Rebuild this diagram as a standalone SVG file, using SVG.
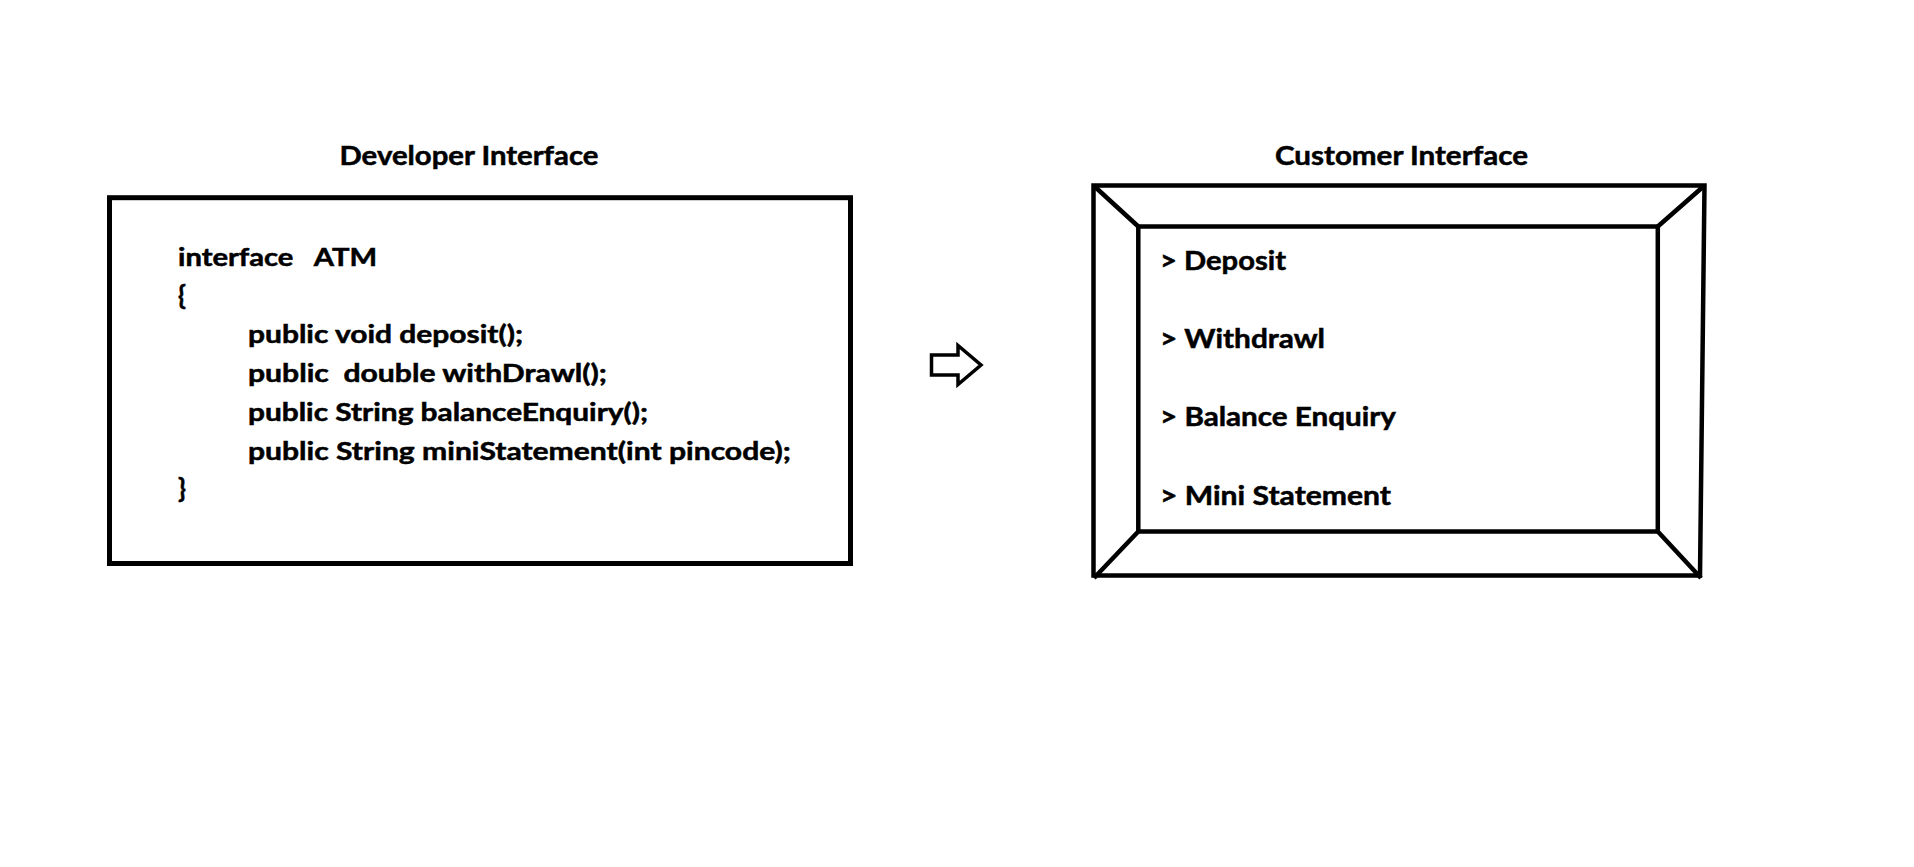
<svg xmlns="http://www.w3.org/2000/svg" width="1914" height="867" viewBox="0 0 1914 867">
  <style>
    .t { font-family: Lato, "Liberation Sans", sans-serif; font-weight: bold; fill: #000; stroke: #000; stroke-width: 0.5; }
    .title { font-size: 26.5px; }
    .code { font-size: 24px; }
    .brace { font-size: 26px; }
    .item { font-size: 26px; }
    .frame { fill: none; stroke: #000; stroke-width: 4.5; stroke-linejoin: miter; }
    .box { fill: #fff; stroke: #000; stroke-width: 5; }
    .arrow { fill: #fff; stroke: #000; stroke-width: 3.5; stroke-linejoin: miter; }
  </style>
  <rect x="0" y="0" width="1914" height="867" fill="#fff"/>

  <g id="developer-interface">
    <text class="t title" x="339.5" y="165" textLength="259" lengthAdjust="spacingAndGlyphs">Developer Interface</text>
    <rect class="box" x="109.5" y="197.7" width="741" height="365.8"/>
    <text class="t code" x="178" y="266" xml:space="preserve" textLength="199" lengthAdjust="spacingAndGlyphs">interface   ATM</text>
    <text class="t code brace" x="178" y="304.7">{</text>
    <text class="t code" x="248" y="343.4" textLength="275" lengthAdjust="spacingAndGlyphs">public void deposit();</text>
    <text class="t code" x="248" y="382.1" xml:space="preserve" textLength="359" lengthAdjust="spacingAndGlyphs">public  double withDrawl();</text>
    <text class="t code" x="248" y="420.8" textLength="400" lengthAdjust="spacingAndGlyphs">public String balanceEnquiry();</text>
    <text class="t code" x="248" y="459.5" textLength="543" lengthAdjust="spacingAndGlyphs">public String miniStatement(int pincode);</text>
    <text class="t code brace" x="178" y="498.2">}</text>
  </g>

  <g id="customer-interface">
    <text class="t title" x="1275" y="165" textLength="253" lengthAdjust="spacingAndGlyphs">Customer Interface</text>
    <path class="frame" d="M1093.5,185.5 H1704.5 L1700,575.5 H1093.5 Z"/>
    <rect class="frame" x="1138.3" y="226.5" width="519.5" height="305"/>
    <path class="frame" d="M1093.5,185.5 L1138.3,226.5 M1704.5,185.5 L1657.8,226.5 M1094,578 L1138.3,531.5 M1701,578 L1657.8,531.5"/>
    <text class="t item" x="1160" y="270" textLength="126" lengthAdjust="spacingAndGlyphs">&gt; Deposit</text>
    <text class="t item" x="1160" y="348" textLength="165" lengthAdjust="spacingAndGlyphs">&gt; Withdrawl</text>
    <text class="t item" x="1160" y="426" textLength="236" lengthAdjust="spacingAndGlyphs">&gt; Balance Enquiry</text>
    <text class="t item" x="1160" y="505" textLength="231" lengthAdjust="spacingAndGlyphs">&gt; Mini Statement</text>
  </g>

  <g id="connectors">
    <polygon class="arrow" points="931.5,355 958,355 958,345.5 981,365 958,384.5 958,375 931.5,375"/>
  </g>
</svg>
